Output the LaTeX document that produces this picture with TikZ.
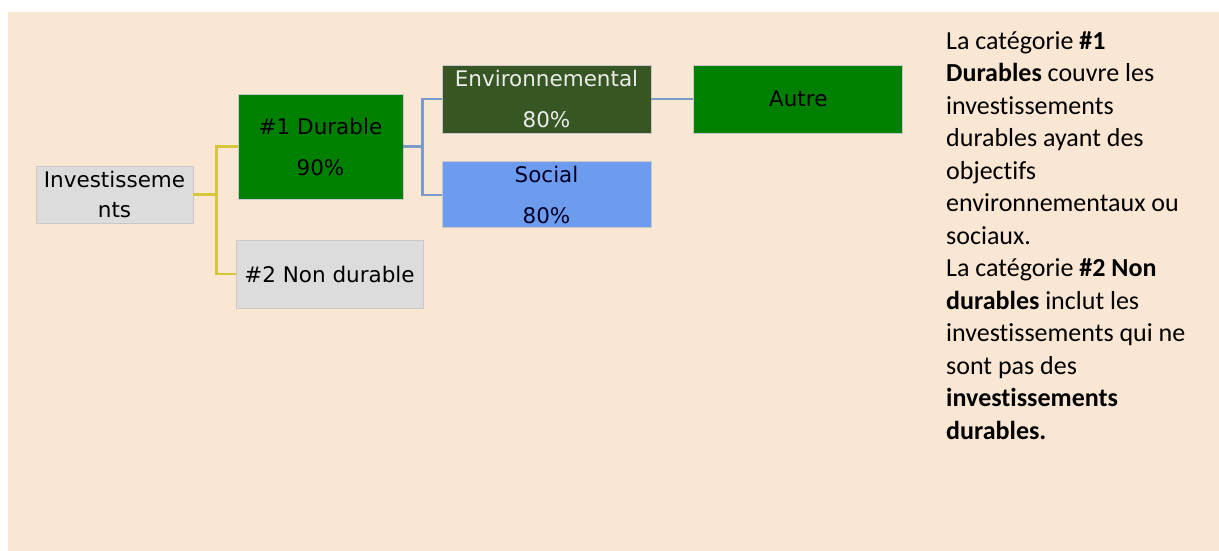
\documentclass[tikz,border=0pt]{standalone}
\usepackage{fontspec}
\setmainfont{Carlito}[Ligatures=NoCommon]
\newfontfamily\boxfont{DejaVu Sans}
\usetikzlibrary{calc, positioning}

\definecolor{peach}{HTML}{F9E6D3}
\definecolor{boxgrey}{HTML}{DCDCDC}
\definecolor{greyedge}{HTML}{C8C8C8}
\definecolor{durgreen}{HTML}{008000}
\definecolor{envgreen}{HTML}{375623}
\definecolor{socblue}{HTML}{6D9CEE}
\definecolor{yellowline}{HTML}{D6C63A}
\definecolor{blueline}{HTML}{7A9BC9}

\begin{document}
\begin{tikzpicture}[
			x=1pt, y=-1pt,
			catbox/.style={draw=greyedge, line width=0.8pt, rectangle, inner sep=0pt, align=center, font=\boxfont\fontsize{21.5}{41}\selectfont},
			greybox/.style={catbox, fill=boxgrey},
			greenbox/.style={catbox, fill=durgreen, text=black},
			wide/.style={minimum width=209pt, minimum height=68pt},
			yline/.style={draw=yellowline, line width=2.4pt},
			bline/.style={draw=blueline, line width=2.4pt},
			desctext/.style={inner sep=0pt, align=left, font=\fontsize{26}{32.5}\selectfont}
		]
		\useasboundingbox (0,0) rectangle (1219,551);
		\fill[white] (0,0) rectangle (1219,551);
		\fill[peach] (8,12) rectangle (1219,551);

		\node[greybox, minimum width=157pt, minimum height=57pt, font=\boxfont\fontsize{21.5}{30}\selectfont] (inv) at (114.5,194.5) {Investisseme\\nts};
		\node[greenbox, minimum width=165pt, minimum height=105pt] (dur) at (320.5,146.5) {\#1 Durable\\90\%};
		\node[greybox, minimum width=187pt, minimum height=68pt] (nondur) at (329.5,274) {\#2 Non durable};
		\node[catbox, wide, fill=envgreen, text=white!92!black] (env) at (546.5,99) {Environnemental\\80\%};
		\node[catbox, wide, minimum height=66pt, fill=socblue, text=black!85!blue, below=28pt of env] (soc) {Social\\80\%};
		\node[greenbox, wide, right=42pt of env] (autre) {Autre};

		\draw[yline] (inv.east) -- ++(23,0) coordinate (yj) |- (dur.west);
		\draw[yline] (yj) |- (nondur.west);
		\draw[bline] (dur.east) -- ++(19,0) coordinate (bj) |- (env.west);
		\draw[bline] (bj) |- (soc.west);
		\draw[bline] (env) -- (autre);

		\node[desctext, anchor=north west] (desc) at (946,31) {La catégorie \textbf{\#1}\\
			\textbf{Durables} couvre les\\
			investissements\\
			durables ayant des\\
			objectifs\\
			environnementaux ou\\
			sociaux.\\
			La catégorie \textbf{\#2 Non}\\
			\textbf{durables} inclut les\\
			investissements qui ne\\
			sont pas des\\
			\textbf{investissements}\\
			\textbf{durables.}};
	\end{tikzpicture}
\end{document}
